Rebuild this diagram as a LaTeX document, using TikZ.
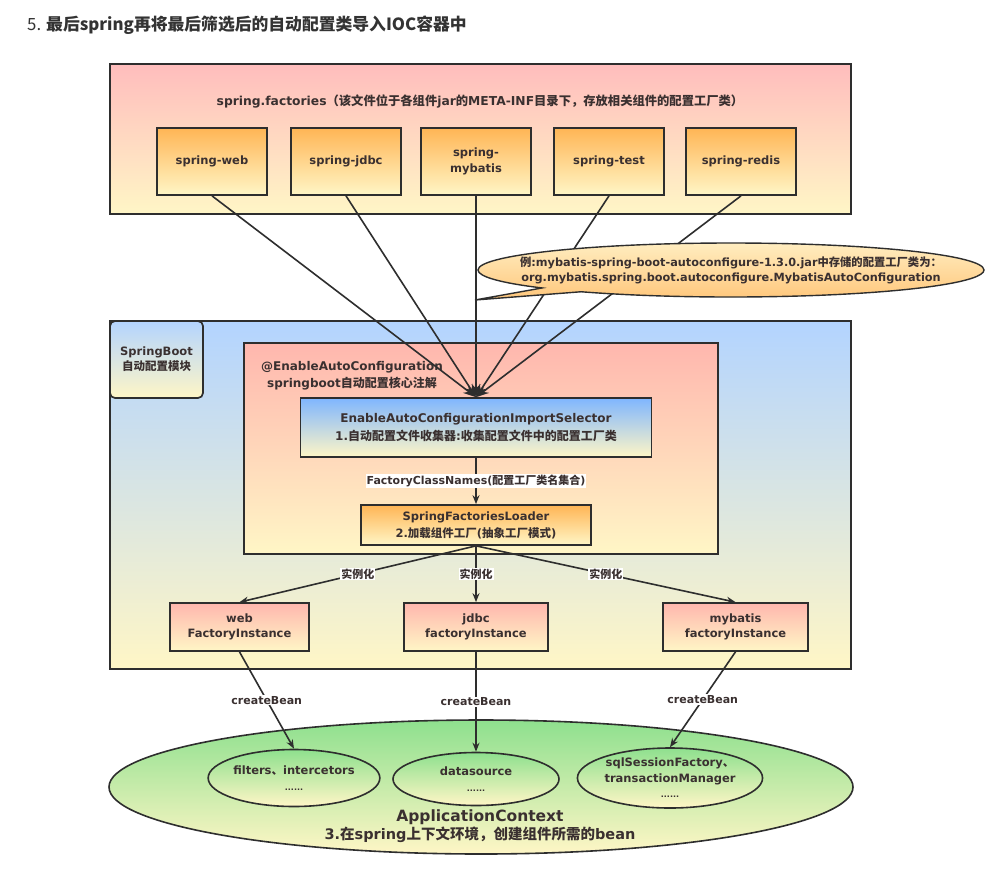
\documentclass[tikz,border=0pt]{standalone}
\usepackage{fontspec}
\setmainfont{DejaVu Sans}
\newfontfamily\cjkfont{Noto Sans CJK SC}
\newcommand{\cjktext}[1]{{\cjkfont #1}}
\newcommand{\fsz}[2]{\fontsize{#1}{#2}\selectfont}
\usetikzlibrary{arrows.meta,shapes.geometric,shapes.callouts}
\definecolor{ln}{HTML}{2E2E2E}
\definecolor{tx}{HTML}{3A3030}
\definecolor{ttl}{HTML}{333333}
\definecolor{pinkT}{HTML}{FFBDBD}
\definecolor{yelB}{HTML}{FFF6C6}
\definecolor{orT}{HTML}{FFB555}
\definecolor{blueT}{HTML}{B3D4FF}
\definecolor{selT}{HTML}{7FB6FF}
\definecolor{salT}{HTML}{FFB7AE}
\definecolor{grT}{HTML}{8EE08E}
\definecolor{calT}{HTML}{FFEDC0}
\definecolor{calB}{HTML}{FFC67A}
\begin{document}
\begin{tikzpicture}[x=1pt,y=-1pt,
  cont/.style={draw=ln, line width=1.7pt, inner sep=0pt},
  bx/.style={draw=ln, line width=1.7pt, inner sep=2pt, align=center, text=tx, font=\fsz{11.5}{16}\bfseries},
  sbox/.style={bx, top color=orT, bottom color=yelB, minimum width=110pt, minimum height=67pt},
  inst/.style={bx, font=\fsz{11.5}{14.5}\bfseries, top color=salT, bottom color=yelB, minimum height=48pt},
  ell/.style={ellipse, draw=ln, line width=1.6pt, inner sep=0pt, align=center, text=tx, font=\fsz{11.5}{16}\bfseries, top color=grT, bottom color=yelB},
  conn/.style={draw=ln, line width=1.6pt},
  arr/.style={-{Stealth[length=9pt,width=7pt]}},
  jarr/.style={-{Stealth[length=13pt,width=9pt]}},
  lbl/.style={fill=white, inner sep=1pt, text=tx, font=\fsz{11}{13}\bfseries},
]
\useasboundingbox (0,0) rectangle (985,884);
\fill[white] (0,0) rectangle (985,884);

% title
\node[anchor=west, text=ttl, font=\cjkfont\fsz{16.8}{19}, inner sep=0pt] (title) at (27,25)
  {5. \textbf{最后spring再将最后筛选后的自动配置类导入IOC容器中}};

% spring.factories container
\node[cont, top color=pinkT, bottom color=yelB, minimum width=741pt, minimum height=150pt] (fac) at (480.5,139) {};
\node[text=tx, font=\fsz{12.3}{15}\bfseries] (factxt) at (480,101)
  {spring.factories\cjktext{（该文件位于各组件}jar\cjktext{的}META-INF\cjktext{目录下，存放相关组件的配置工厂类）}};
\node[sbox] (sweb) at (212,161.5) {spring-web};
\node[sbox] (sjdbc) at (346,161.5) {spring-jdbc};
\node[sbox] (smyb) at (476,161.5) {spring-\\mybatis};
\node[sbox] (stest) at (609,161.5) {spring-test};
\node[sbox] (sredis) at (741,161.5) {spring-redis};

% SpringBoot container
\node[cont, top color=blueT, bottom color=yelB, minimum width=741pt, minimum height=348pt] (sb) at (480.5,495) {};
\node[bx, rounded corners=5pt, top color=blueT, bottom color=yelB, minimum width=93pt, minimum height=77pt, font=\fsz{11.5}{15}\bfseries] (sbtab) at (156.5,359.5)
  {SpringBoot\\\cjktext{自动配置模块}};
\node[cont, top color=salT, bottom color=yelB, minimum width=474pt, minimum height=211pt] (eac) at (481,448.5) {};
\node[text=tx, font=\fsz{12}{17}\bfseries, align=center] (eactxt) at (352,375.5)
  {@EnableAutoConfiguration\\springboot\cjktext{自动配置核心注解}};
\node[bx, font=\fsz{12}{18}\bfseries, top color=selT, bottom color=yelB, minimum width=351pt, minimum height=59pt] (sel) at (476,427.5)
  {EnableAutoConfigurationImportSelector\\1.\cjktext{自动配置文件收集器}:\cjktext{收集配置文件中的配置工厂类}};
\node[bx, font=\fsz{11.5}{17}\bfseries, top color=orT, bottom color=yelB, minimum width=230pt, minimum height=40pt] (ldr) at (476,525)
  {SpringFactoriesLoader\\2.\cjktext{加载组件工厂}(\cjktext{抽象工厂模式})};
\node[inst, minimum width=139pt] (iweb) at (239.5,627) {web\\FactoryInstance};
\node[inst, minimum width=144pt] (ijdbc) at (476,627) {jdbc\\factoryInstance};
\node[inst, minimum width=145pt] (imyb) at (735.5,627) {mybatis\\factoryInstance};

% ApplicationContext
\node[ell, minimum width=744pt, minimum height=134pt] (ctx) at (481,787) {};
\node[ell, minimum width=152pt, minimum height=57pt] (bfil) at (294,778)
  {filters\cjktext{、}intercetors\\{\fsz{8}{10}......}};
\node[ell, minimum width=166pt, minimum height=53pt] (bds) at (476,779)
  {datasource\\{\fsz{8}{10}......}};
\node[ell, minimum width=178pt, minimum height=60pt, font=\fsz{11.5}{15.5}\bfseries] (bsql) at (670,778)
  {sqlSessionFactory\cjktext{、}\\transactionManager\\{\fsz{8}{10}......}};
\node[text=tx, font=\fsz{14.5}{18}\bfseries, align=center] (ctxtxt) at (480,826)
  {{\fsz{15.5}{18}ApplicationContext}\\3.\cjktext{在}spring\cjktext{上下文环境，创建组件所需的}bean};

% connectors to the selector
\coordinate (junc) at (sel.north);
\foreach \s in {sweb,sjdbc,smyb,stest,sredis}
  \draw[conn, jarr] (\s.south) -- (junc);

% callout
\coordinate (tip) at (475,300);
\node[ellipse callout, draw=ln, line width=1.4pt, top color=calT, bottom color=calB,
  minimum width=506pt, minimum height=54pt, callout absolute pointer={(tip)}, callout pointer arc=12,
  inner sep=0pt] (note) at (731,270) {};
\node[text=tx, align=center, font=\fsz{11.3}{15}\bfseries, inner sep=0pt] (notetxt) at (note.center)
  {\cjktext{例}:mybatis-spring-boot-autoconfigure-1.3.0.jar\cjktext{中存储的配置工厂类为：}\\org.mybatis.spring.boot.autoconfigure.MybatisAutoConfiguration};

\draw[conn, arr] (sel) -- node[lbl] {FactoryClassNames(\cjktext{配置工厂类名集合})} (ldr);
\draw[conn, arr] (ldr.south) -- node[lbl] {\cjktext{实例化}} (iweb.north);
\draw[conn, arr] (ldr.south) -- node[lbl] {\cjktext{实例化}} (ijdbc.north);
\draw[conn, arr] (ldr.south) -- node[lbl] {\cjktext{实例化}} (imyb.north);

\draw[conn, arr] (iweb.south) -- node[lbl] {createBean} (bfil.north);
\draw[conn, arr] (ijdbc.south) -- node[lbl] {createBean} (bds.north);
\draw[conn, arr] (imyb.south) -- node[lbl] {createBean} (bsql.north);
\end{tikzpicture}
\end{document}
